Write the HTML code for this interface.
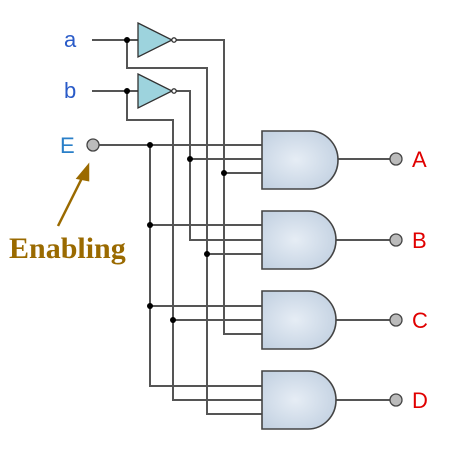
<!DOCTYPE html>
<html><head><style>body{margin:0;background:#fff}</style></head><body>
<svg width="453" height="447" viewBox="0 0 453 447" xmlns="http://www.w3.org/2000/svg">
<defs>
<radialGradient id="g" cx="0.45" cy="0.5" r="0.6"><stop offset="0" stop-color="#e6edf5"/><stop offset="1" stop-color="#c4d2e2"/></radialGradient>
</defs>
<g stroke="#555" stroke-width="2" fill="none">
<path d="M92 40H138M175 40H224V334H262"/>
<path d="M92 91H138M175 91H190V240H262"/>
<path d="M127 40V68H207V414H262"/>
<path d="M127 91V120H173V400H262"/>
<path d="M99 145H262M150 145V386H262"/>
<path d="M190 159H262M224 173H262M150 225H262M207 254H262M150 306H262M173 320H262"/>
<path d="M336 159H390M336 240H390M336 320H390M336 400H390"/>
</g>
<g fill="#000">
<circle cx="127" cy="40" r="3"/><circle cx="127" cy="91" r="3"/>
<circle cx="150" cy="145" r="3"/><circle cx="190" cy="159" r="3"/><circle cx="224" cy="173" r="3"/>
<circle cx="150" cy="225" r="3"/><circle cx="207" cy="254" r="3"/>
<circle cx="150" cy="306" r="3"/><circle cx="173" cy="320" r="3"/>
</g>
<g fill="#9dd3dd" stroke="#333" stroke-width="1.3">
<path d="M138 23L172 40L138 57Z"/><circle cx="174" cy="40" r="2.2" fill="#fff"/>
<path d="M138 74L172 91L138 108Z"/><circle cx="174" cy="91" r="2.2" fill="#fff"/>
</g>
<g fill="url(#g)" stroke="#444" stroke-width="1.6">
<path d="M262 131H310A28 29 0 0 1 310 189H262Z"/>
<path d="M262 211H308A28 29 0 0 1 308 269H262Z"/>
<path d="M262 291H308A28 29 0 0 1 308 349H262Z"/>
<path d="M262 371H308A28 29 0 0 1 308 429H262Z"/>
</g>
<g fill="#bbb" stroke="#444" stroke-width="1.3">
<circle cx="93" cy="145" r="6"/>
<circle cx="396" cy="159" r="6"/><circle cx="396" cy="240" r="6"/><circle cx="396" cy="320" r="6"/><circle cx="396" cy="400" r="6"/>
</g>
<g font-family="Liberation Sans, sans-serif" font-size="22">
<text x="64" y="47" fill="#2a5bc8">a</text>
<text x="64" y="98" fill="#2a5bc8">b</text>
<text x="60" y="153" fill="#2a7fc8">E</text>
<g fill="#e00000"><text x="412" y="167">A</text><text x="412" y="248">B</text><text x="412" y="328">C</text><text x="412" y="408">D</text></g>
</g>
<text x="9" y="258" font-family="Liberation Serif, serif" font-weight="bold" font-size="30" fill="#9a6a00">Enabling</text>
<g stroke="#9a6a00" stroke-width="2.5" fill="#9a6a00">
<path d="M58 226L84 174"/><path d="M88 166L78 178L88 180Z"/>
</g>
</svg>
</body></html>
